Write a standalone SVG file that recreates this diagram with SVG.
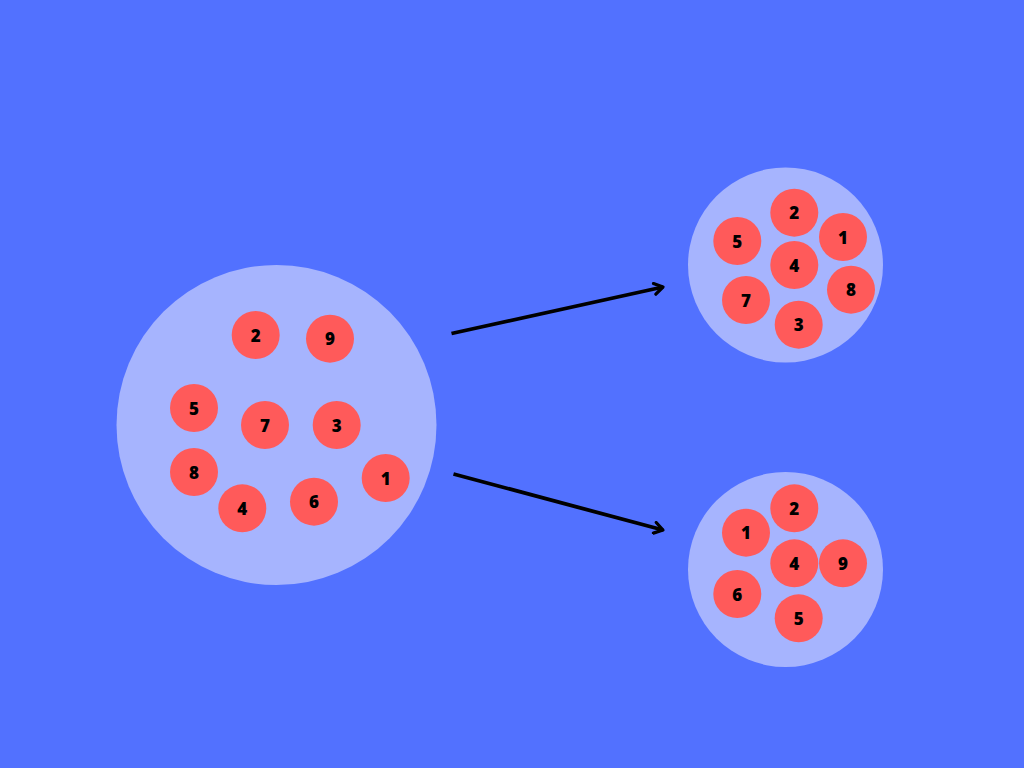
<svg xmlns="http://www.w3.org/2000/svg" width="1024" height="768" viewBox="0 0 1024 768">
<defs>
<style>
.pool{fill:#A6B4FE}
.ball{fill:#FF5A5A}
.lbl{font-family:"Open Sans","Liberation Sans",sans-serif;font-weight:800;font-size:17px;fill:#000;text-anchor:middle;dominant-baseline:central}
.edge{stroke:#000;stroke-width:3.8;fill:none;stroke-linecap:butt}
</style>
<marker id="arr" viewBox="0 0 14 14" refX="11.5" refY="7" markerWidth="14" markerHeight="14" markerUnits="userSpaceOnUse" orient="auto">
<path d="M3,1.5 L11.5,7 L3,12.5" fill="none" stroke="#000" stroke-width="3.2" stroke-linecap="round" stroke-linejoin="round"/>
</marker>
</defs>
<rect width="1024" height="768" fill="#5271FF"/>
<g id="pool-main"><circle class="pool" cx="276.5" cy="425" r="160"/></g>
<g id="pool-top"><circle class="pool" cx="785.5" cy="265" r="97.5"/></g>
<g id="pool-bottom"><circle class="pool" cx="785.5" cy="569.5" r="97.5"/></g>
<g id="connectors">
<line class="edge" x1="451.5" y1="333.5" x2="663" y2="287" marker-end="url(#arr)"/>
<line class="edge" x1="453.5" y1="474" x2="663" y2="530" marker-end="url(#arr)"/>
</g>
<g id="main-2"><circle class="ball" cx="255.7" cy="335" r="24"/><text class="lbl" x="255.7" y="335">2</text></g>
<g id="main-9"><circle class="ball" cx="330" cy="338.7" r="24"/><text class="lbl" x="330" y="338.7">9</text></g>
<g id="main-5"><circle class="ball" cx="194" cy="408" r="24"/><text class="lbl" x="194" y="408">5</text></g>
<g id="main-7"><circle class="ball" cx="265" cy="425" r="24"/><text class="lbl" x="265" y="425">7</text></g>
<g id="main-3"><circle class="ball" cx="336.7" cy="425" r="24"/><text class="lbl" x="336.7" y="425">3</text></g>
<g id="main-8"><circle class="ball" cx="194" cy="472" r="24"/><text class="lbl" x="194" y="472">8</text></g>
<g id="main-4"><circle class="ball" cx="242.3" cy="508.3" r="24"/><text class="lbl" x="242.3" y="508.3">4</text></g>
<g id="main-6"><circle class="ball" cx="314" cy="501.7" r="24"/><text class="lbl" x="314" y="501.7">6</text></g>
<g id="main-1"><circle class="ball" cx="385.7" cy="478" r="24"/><text class="lbl" x="385.7" y="478">1</text></g>
<g id="top-2"><circle class="ball" cx="794.3" cy="212.7" r="24"/><text class="lbl" x="794.3" y="212.7">2</text></g>
<g id="top-5"><circle class="ball" cx="737.3" cy="241" r="24"/><text class="lbl" x="737.3" y="241">5</text></g>
<g id="top-1"><circle class="ball" cx="843" cy="237" r="24"/><text class="lbl" x="843" y="237">1</text></g>
<g id="top-4"><circle class="ball" cx="794.3" cy="265" r="24"/><text class="lbl" x="794.3" y="265">4</text></g>
<g id="top-7"><circle class="ball" cx="746" cy="300" r="24"/><text class="lbl" x="746" y="300">7</text></g>
<g id="top-8"><circle class="ball" cx="851" cy="289.7" r="24"/><text class="lbl" x="851" y="289.7">8</text></g>
<g id="top-3"><circle class="ball" cx="798.7" cy="324.7" r="24"/><text class="lbl" x="798.7" y="324.7">3</text></g>
<g id="bot-2"><circle class="ball" cx="794.3" cy="508.3" r="24"/><text class="lbl" x="794.3" y="508.3">2</text></g>
<g id="bot-1"><circle class="ball" cx="746" cy="532.7" r="24"/><text class="lbl" x="746" y="532.7">1</text></g>
<g id="bot-4"><circle class="ball" cx="794.3" cy="563.3" r="24"/><text class="lbl" x="794.3" y="563.3">4</text></g>
<g id="bot-9"><circle class="ball" cx="843" cy="563.3" r="24"/><text class="lbl" x="843" y="563.3">9</text></g>
<g id="bot-6"><circle class="ball" cx="737.3" cy="594" r="24"/><text class="lbl" x="737.3" y="594">6</text></g>
<g id="bot-5"><circle class="ball" cx="798.7" cy="618.3" r="24"/><text class="lbl" x="798.7" y="618.3">5</text></g>
</svg>
